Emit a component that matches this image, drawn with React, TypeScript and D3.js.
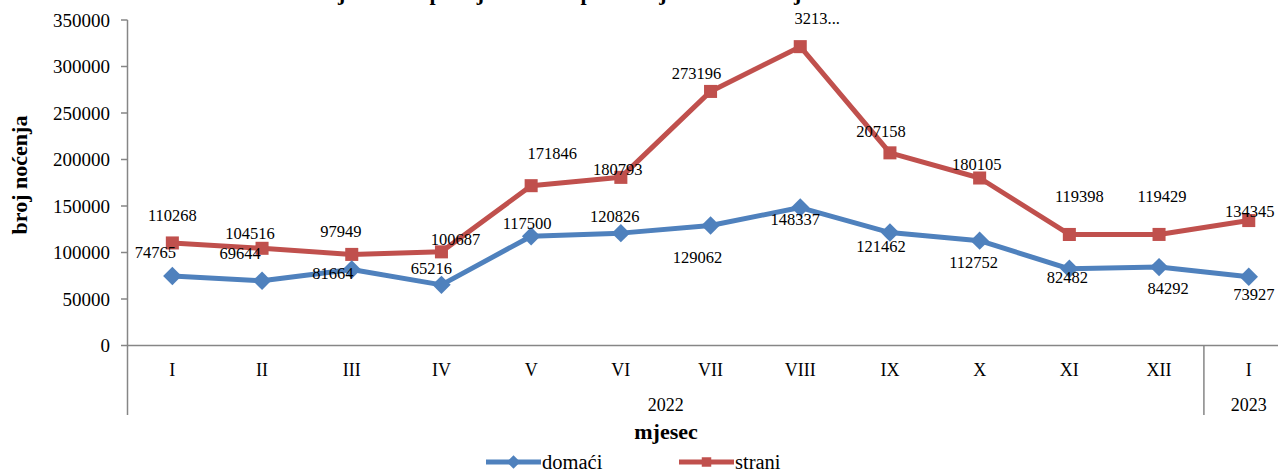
import { useEffect, useRef } from "react";
import { line, range, scaleBand, scaleLinear, select, symbol, symbolSquare } from "d3";

const months = ["I", "II", "III", "IV", "V", "VI", "VII", "VIII", "IX", "X", "XI", "XII", "I"];
const years = ["2022", "2023"];
const monthsPerYear = [12, 1];
const domaci = [74765, 69644, 81664, 65216, 117500, 120826, 129062, 148337, 121462, 112752, 82482, 84292, 73927];
const strani = [110268, 104516, 97949, 100687, 171846, 180793, 273196, 321350, 207158, 180105, 119398, 119429, 134345];
const yTicks = [0, 50000, 100000, 150000, 200000, 250000, 300000, 350000];
// label box of VIII (strani) is too narrow in the original, text gets cut
const straniCut = [7];

// manual label nudges (px), as placed in the original chart
const domaciLabelOff = [
  [-17, -24], [-22, -28], [-19, 4], [-10, -17], [-4, -13], [-6, -17], [-13, 32],
  [-5, 12], [-9, 14], [-6, 22], [-2, 8], [9, 21], [5, 17],
];
const straniLabelOff = [
  [0, -28], [-12, -15], [-11, -23], [14, -13], [21, -32], [-3, -8], [-14, -18],
  [17, -28], [-9, -22], [-3, -14], [10, -38], [3, -38], [1, -9],
];

const BLUE = "#4F81BD";
const RED = "#C0504D";
const AXIS = "#868686";
const SERIF = "'Liberation Serif', 'Times New Roman', serif";

export default function App() {
  const ref = useRef<SVGSVGElement>(null);

  useEffect(() => {
    if (!ref.current) return;
    const svg = select(ref.current);
    svg.selectAll("*").remove();
    const W = 1278,
      H = 472;
    const step = 89.7;
    const x = scaleBand<number>()
      .domain(range(months.length))
      .range([127.5, 127.5 + step * months.length]);
    const cx = (i: number) => (x(i) as number) + x.bandwidth() / 2;
    const y = scaleLinear().domain([0, 350000]).range([345.5, 20]);

    svg.append("rect").attr("width", W).attr("height", H).attr("fill", "#fff");

    // title, mostly clipped at the top edge
    svg
      .append("text")
      .attr("x", 593)
      .attr("y", 0)
      .attr("text-anchor", "middle")
      .attr("font-family", SERIF)
      .attr("font-weight", "bold")
      .attr("font-size", 22)
      .text("Noćenja turista po mjesecima u periodu januar 2022 – januar 2023");

    // y axis
    const yA = svg.append("g");
    yA.append("line")
      .attr("x1", 127.5)
      .attr("x2", 127.5)
      .attr("y1", y(350000))
      .attr("y2", 415)
      .attr("stroke", AXIS)
      .attr("stroke-width", 1.5);
    yTicks.forEach((t) => {
      yA.append("line")
        .attr("x1", 121)
        .attr("x2", 127.5)
        .attr("y1", y(t))
        .attr("y2", y(t))
        .attr("stroke", AXIS)
        .attr("stroke-width", 1.5);
      yA.append("text")
        .attr("x", 110)
        .attr("y", y(t))
        .attr("dy", "0.35em")
        .attr("text-anchor", "end")
        .attr("font-family", SERIF)
        .attr("font-size", 19)
        .attr("fill", "#000")
        .text(String(t));
    });
    svg
      .append("text")
      .attr("transform", `translate(27,175) rotate(-90)`)
      .attr("text-anchor", "middle")
      .attr("font-family", SERIF)
      .attr("font-weight", "bold")
      .attr("font-size", 22)
      .text("broj noćenja");

    // x axis (two levels)
    const xA = svg.append("g");
    xA.append("line")
      .attr("x1", 127.5)
      .attr("x2", W)
      .attr("y1", y(0))
      .attr("y2", y(0))
      .attr("stroke", AXIS)
      .attr("stroke-width", 1.5);
    months.forEach((m, i) => {
      xA.append("text")
        .attr("x", cx(i))
        .attr("y", 370)
        .attr("dy", "0.35em")
        .attr("text-anchor", "middle")
        .attr("font-family", SERIF)
        .attr("font-size", 18)
        .text(m);
    });
    let start = 0;
    years.forEach((yr, k) => {
      const end = start + monthsPerYear[k];
      const x0 = x(start) as number;
      const x1 = (x(end - 1) as number) + x.bandwidth();
      if (k > 0) {
        xA.append("line")
          .attr("x1", x0)
          .attr("x2", x0)
          .attr("y1", y(0))
          .attr("y2", 415)
          .attr("stroke", AXIS)
          .attr("stroke-width", 1.5);
      }
      const lx = k === years.length - 1 ? cx(start) : (x0 + x1) / 2;
      xA.append("text")
        .attr("x", lx)
        .attr("y", 405)
        .attr("dy", "0.35em")
        .attr("text-anchor", "middle")
        .attr("font-family", SERIF)
        .attr("font-size", 18)
        .text(yr);
      start = end;
    });
    svg
      .append("text")
      .attr("x", 666)
      .attr("y", 431)
      .attr("dy", "0.35em")
      .attr("text-anchor", "middle")
      .attr("font-family", SERIF)
      .attr("font-weight", "bold")
      .attr("font-size", 22)
      .text("mjesec");

    const lineGen = line<number>()
      .x((_d, i) => cx(i))
      .y((d) => y(d));
    const marker = symbol().type(symbolSquare).size(170)();

    const series = [
      { values: strani, color: RED, rot: 0, off: straniLabelOff, cut: straniCut },
      { values: domaci, color: BLUE, rot: 45, off: domaciLabelOff, cut: [] as number[] },
    ];
    series.forEach((s) => {
      const g = svg.append("g");
      g.append("path")
        .attr("d", lineGen(s.values) || "")
        .attr("fill", "none")
        .attr("stroke", s.color)
        .attr("stroke-width", 5)
        .attr("stroke-linejoin", "round");
      s.values.forEach((v, i) => {
        g.append("path")
          .attr("d", marker || "")
          .attr("transform", `translate(${cx(i)},${y(v)}) rotate(${s.rot})`)
          .attr("fill", s.color);
      });
    });
    series.forEach((s) => {
      s.values.forEach((v, i) => {
        const txt = s.cut.includes(i) ? String(v).slice(0, 4) + "..." : String(v);
        svg
          .append("text")
          .attr("x", cx(i) + s.off[i][0])
          .attr("y", y(v) + s.off[i][1])
          .attr("dy", "0.35em")
          .attr("text-anchor", "middle")
          .attr("font-family", SERIF)
          .attr("font-size", 16.5)
          .text(txt);
      });
    });

    // legend
    const legend = [
      { name: "domaći", color: BLUE, rot: 45, x0: 486 },
      { name: "strani", color: RED, rot: 0, x0: 679 },
    ];
    legend.forEach((l) => {
      const g = svg.append("g").attr("transform", `translate(${l.x0},462)`);
      g.append("line")
        .attr("x1", 0)
        .attr("x2", 55)
        .attr("stroke", l.color)
        .attr("stroke-width", 5);
      g.append("path")
        .attr("d", symbol().type(symbolSquare).size(90)() || "")
        .attr("transform", `translate(27.5,0) rotate(${l.rot})`)
        .attr("fill", l.color);
      g.append("text")
        .attr("x", 56)
        .attr("dy", "0.35em")
        .attr("font-family", SERIF)
        .attr("font-size", 20.5)
        .text(l.name);
    });
  }, []);

  return (
    <svg
      ref={ref}
      width={1278}
      height={472}
      viewBox="0 0 1278 472"
      style={{ position: "absolute", left: 0, top: 0 }}
    />
  );
}
